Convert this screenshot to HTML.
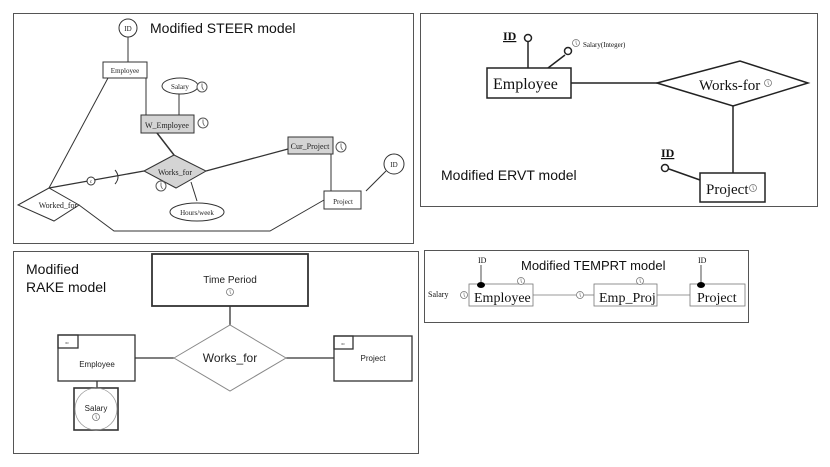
<!DOCTYPE html>
<html><head><meta charset="utf-8"><style>body{margin:0;background:#fff}svg{display:block}</style></head><body>
<svg width="830" height="467" viewBox="0 0 830 467" xmlns="http://www.w3.org/2000/svg">
<defs>
<g id="clk"><circle r="5" fill="#fff" stroke="#555" stroke-width="1"/><path d="M0,-3.5 L0,0 L1.5,3" stroke="#555" fill="none" stroke-width="0.8"/></g>
<g id="clks"><circle r="3.5" fill="#fff" stroke="#777" stroke-width="0.8"/><path d="M0,-2.5 L0,0 L1,2" stroke="#777" fill="none" stroke-width="0.6"/></g>
</defs>
<g fill="none" stroke="#555" stroke-width="1">
<rect x="13.5" y="13.5" width="400" height="230"/>
<rect x="420.5" y="13.5" width="397" height="193"/>
<rect x="424.5" y="250.5" width="324" height="72"/>
<rect x="13.5" y="251.5" width="405" height="202"/>
</g>
<!-- STEER -->
<g stroke="#333" fill="none" stroke-width="1">
<line x1="128" y1="37" x2="128" y2="62"/>
<line x1="146" y1="78" x2="146" y2="115"/>
<line x1="179" y1="94" x2="179" y2="115"/>
<line x1="157" y1="133" x2="174" y2="155" stroke-width="1.5"/>
<line x1="206" y1="171" x2="288" y2="149" stroke-width="1.3"/>
<line x1="49" y1="188" x2="144" y2="171" stroke-width="1.3"/>
<path d="M115,170 Q121,177 115,184"/>
<line x1="108" y1="78" x2="49" y2="188"/>
<line x1="197" y1="201" x2="191" y2="182"/>
<line x1="331" y1="154" x2="331" y2="191"/>
<line x1="366" y1="191" x2="386" y2="171"/>
<polyline points="79,205 114,231 270,231 324,200"/>
<circle cx="128" cy="28" r="9" fill="#fff"/>
<rect x="103" y="62" width="44" height="16" fill="#fff"/>
<ellipse cx="180" cy="86" rx="18" ry="8" fill="#fff"/>
<rect x="141" y="115" width="53" height="18" fill="#d4d4d4"/>
<rect x="288" y="137" width="45" height="17" fill="#d4d4d4"/>
<polygon points="144,171 174,155 206,171 176,188" fill="#d4d4d4"/>
<polygon points="18,205 49,188 79,205 54,221" fill="#fff"/>
<ellipse cx="197" cy="212" rx="27" ry="9" fill="#fff"/>
<rect x="324" y="191" width="37" height="18" fill="#fff"/>
<circle cx="394" cy="164" r="10" fill="#fff"/>
<circle cx="91" cy="181" r="4" fill="#fff"/>
</g>
<use href="#clk" x="202" y="87"/><use href="#clk" x="203" y="123"/><use href="#clk" x="341" y="147"/><use href="#clk" x="161" y="186"/>
<g font-family="Liberation Serif, serif" font-size="7" fill="#222" text-anchor="middle">
<text x="128" y="31">ID</text><text x="125" y="73">Employee</text><text x="180" y="89">Salary</text>
<text x="167" y="128" font-size="8">W_Employee</text><text x="310" y="149" font-size="8">Cur_Project</text>
<text x="175" y="175" font-size="8">Works_for</text><text x="58" y="208" font-size="8">Worked_for</text>
<text x="197" y="215">Hours/week</text><text x="343" y="204">Project</text><text x="394" y="167">ID</text>
<text x="91" y="183" font-size="5">c</text>
</g>
<text x="150" y="33" font-family="Liberation Sans, sans-serif" font-size="14" fill="#111">Modified STEER model</text>
<!-- ERVT -->
<g stroke="#222" fill="none" stroke-width="1.5">
<line x1="528" y1="42" x2="528" y2="68"/>
<line x1="565" y1="55" x2="548" y2="68"/>
<line x1="571" y1="83" x2="657" y2="83"/>
<line x1="733" y1="106" x2="733" y2="173"/>
<line x1="669" y1="169" x2="700" y2="180"/>
<circle cx="528" cy="38" r="3.5" fill="#fff"/>
<circle cx="568" cy="51" r="3.5" fill="#fff"/>
<circle cx="665" cy="168" r="3.5" fill="#fff"/>
<rect x="487" y="68" width="84" height="30" fill="#fff"/>
<polygon points="657,83 740,61 808,83 733,106" fill="#fff"/>
<rect x="700" y="173" width="65" height="29" fill="#fff"/>
</g>
<use href="#clks" x="576" y="43"/><use href="#clks" x="768" y="83"/><use href="#clks" x="753" y="188"/>
<g font-family="Liberation Serif, serif" fill="#111">
<text x="503" y="40" font-size="12" font-weight="bold" text-decoration="underline">ID</text>
<text x="661" y="157" font-size="12" font-weight="bold" text-decoration="underline">ID</text>
<text x="583" y="47" font-size="7">Salary(Integer)</text>
<text x="493" y="89" font-size="16">Employee</text>
<text x="699" y="90" font-size="15">Works-for</text>
<text x="706" y="194" font-size="15">Project</text>
</g>
<text x="441" y="180" font-family="Liberation Sans, sans-serif" font-size="14" fill="#111">Modified ERVT model</text>
<!-- TEMPRT -->
<g stroke="#777" fill="none" stroke-width="0.8">
<line x1="533" y1="295" x2="576" y2="295"/><line x1="584" y1="295" x2="594" y2="295"/>
<line x1="657" y1="295" x2="690" y2="295"/>
<line x1="481" y1="265" x2="481" y2="284" stroke="#222"/>
<line x1="701" y1="265" x2="701" y2="284" stroke="#222"/>
<line x1="490" y1="285" x2="533" y2="285"/><line x1="604" y1="285" x2="656" y2="285"/>
<rect x="469" y="284" width="64" height="22" fill="#fff"/>
<rect x="594" y="284" width="63" height="22" fill="#fff"/>
<rect x="690" y="284" width="55" height="22" fill="#fff"/>
</g>
<ellipse cx="481" cy="285" rx="4" ry="3" fill="#000"/><ellipse cx="701" cy="285" rx="4" ry="3" fill="#000"/>
<use href="#clks" x="521" y="281"/><use href="#clks" x="640" y="281"/><use href="#clks" x="580" y="295"/><use href="#clks" x="464" y="295"/>
<g font-family="Liberation Serif, serif" fill="#111">
<text x="478" y="263" font-size="8">ID</text><text x="698" y="263" font-size="8">ID</text>
<text x="428" y="297" font-size="8">Salary</text>
<text x="474" y="302" font-size="14">Employee</text>
<text x="599" y="302" font-size="14">Emp_Proj</text>
<text x="697" y="302" font-size="14">Project</text>
</g>
<text x="521" y="270" font-family="Liberation Sans, sans-serif" font-size="13" fill="#111">Modified TEMPRT model</text>
<!-- RAKE -->
<g stroke="#333" fill="none" stroke-width="1.3">
<line x1="230" y1="306" x2="230" y2="325"/>
<line x1="135" y1="358" x2="174" y2="358"/>
<line x1="286" y1="358" x2="334" y2="358"/>
<line x1="97" y1="381" x2="97" y2="388"/>
<rect x="152" y="254" width="156" height="52" fill="#fff" stroke-width="1.8"/>
<polygon points="174,358 230,325 286,358 230,391" fill="#fff" stroke="#888" stroke-width="1"/>
<rect x="58" y="335" width="77" height="46" fill="#fff"/>
<rect x="58" y="335" width="20" height="13"/>
<rect x="334" y="336" width="78" height="45" fill="#fff"/>
<rect x="334" y="336" width="19" height="13"/>
<rect x="74" y="388" width="44" height="42" fill="#fff" stroke-width="1.6"/>
<circle cx="96" cy="409" r="21" stroke="#999" stroke-width="0.8"/>
</g>
<use href="#clks" x="230" y="292"/><use href="#clks" x="96" y="417"/>
<g font-family="Liberation Sans, sans-serif" fill="#222" text-anchor="middle">
<text x="230" y="283" font-size="10">Time Period</text>
<text x="230" y="362" font-size="12">Works_for</text>
<text x="97" y="367" font-size="8">Employee</text>
<text x="373" y="361" font-size="8">Project</text>
<text x="96" y="411" font-size="8">Salary</text>
<text x="67" y="344" font-size="3">ID</text><text x="343" y="345" font-size="3">ID</text>
</g>
<g font-family="Liberation Sans, sans-serif" font-size="14" fill="#111">
<text x="26" y="274">Modified</text><text x="26" y="292">RAKE model</text>
</g>
</svg>
</body></html>
